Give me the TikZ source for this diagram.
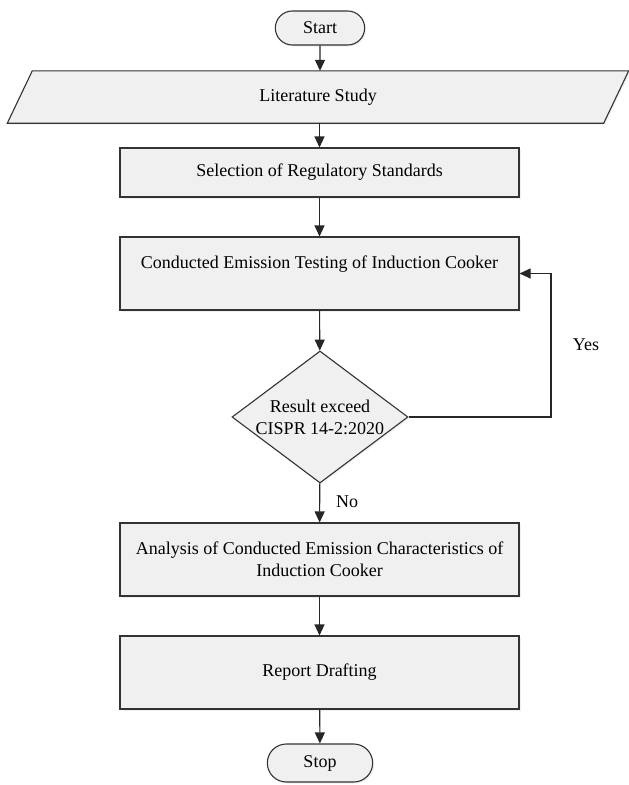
\documentclass[tikz,border=0pt]{standalone}
\usepackage{fontspec}
\setmainfont{Liberation Serif}
\usetikzlibrary{arrows.meta,positioning,shapes.geometric,shapes.misc,shadows,calc}
\tikzset{
    box/.style={draw=black!80, line width=1.1pt, fill=black!6, minimum width=399pt, align=center,
        font=\fontsize{18}{22}\selectfont, drop shadow={opacity=0.12, shadow xshift=1.5pt, shadow yshift=-1.5pt}},
    term/.style={box, rounded rectangle, minimum height=34pt},
    cond/.style={box, diamond, shape aspect=1.33, inner sep=0pt, minimum width=176pt, minimum height=132pt},
    arr/.style={line width=1.1pt, draw=black!85, -{Triangle[length=11pt,width=10pt]}},
    lbl/.style={font=\fontsize{18}{22}\selectfont}
}

\begin{document}
\begin{tikzpicture}[x=1pt, y=-1pt]

    \useasboundingbox (0,0) rectangle (629,785);

    % Nodes of the flow.
    \node[term, minimum width=96pt] (start) at (320,28) {Start};
    \node[minimum width=571pt, minimum height=52pt, inner sep=0pt] (lit) at (318,97) {};
    \node[box, minimum height=49pt] (sel) at (319.5,172.5) {Selection of Regulatory Standards};
    \node[box, minimum height=73pt] (test) at (319.5,273.5) {Conducted Emission Testing of Induction Cooker\\ \mbox{}};
    \node[cond] (dec) at (320,417) {Result exceed\\CISPR 14-2:2020};
    \node[box, minimum height=73pt] (ana) at (319.5,559.5) {Analysis of Conducted Emission Characteristics of\\Induction Cooker};
    \node[box, minimum height=73pt] (rep) at (319.5,672.5) {Report Drafting};
    \node[term, minimum width=112pt, minimum height=38pt] (stop) at (320,763) {Stop};

    % Parallelogram for the literature study.
    \draw[box] ([xshift=-25pt]lit.south west) -- (lit.south east)
        -- ([xshift=25pt]lit.north east) -- (lit.north west) -- cycle;
    \node[lbl] (littext) at (lit) {Literature Study};

    % Straight connectors.
    \draw[arr] (start) -- (start |- lit.north);
    \draw[arr] (sel |- lit.south) -- (sel);
    \foreach \a/\b in {sel/test, test/dec, dec/ana, ana/rep, rep/stop}
        \draw[arr] (\a) -- (\b);

    % Loop back when the limit is exceeded.
    \coordinate (corner) at (551,417);
    \draw[arr] (dec.east) -- (corner) -- (corner |- test.east) -- (test.east);
    \node[lbl] (yes) at (586,345) {Yes};
    \node[lbl] (no) at (347,502) {No};

\end{tikzpicture}
\end{document}
